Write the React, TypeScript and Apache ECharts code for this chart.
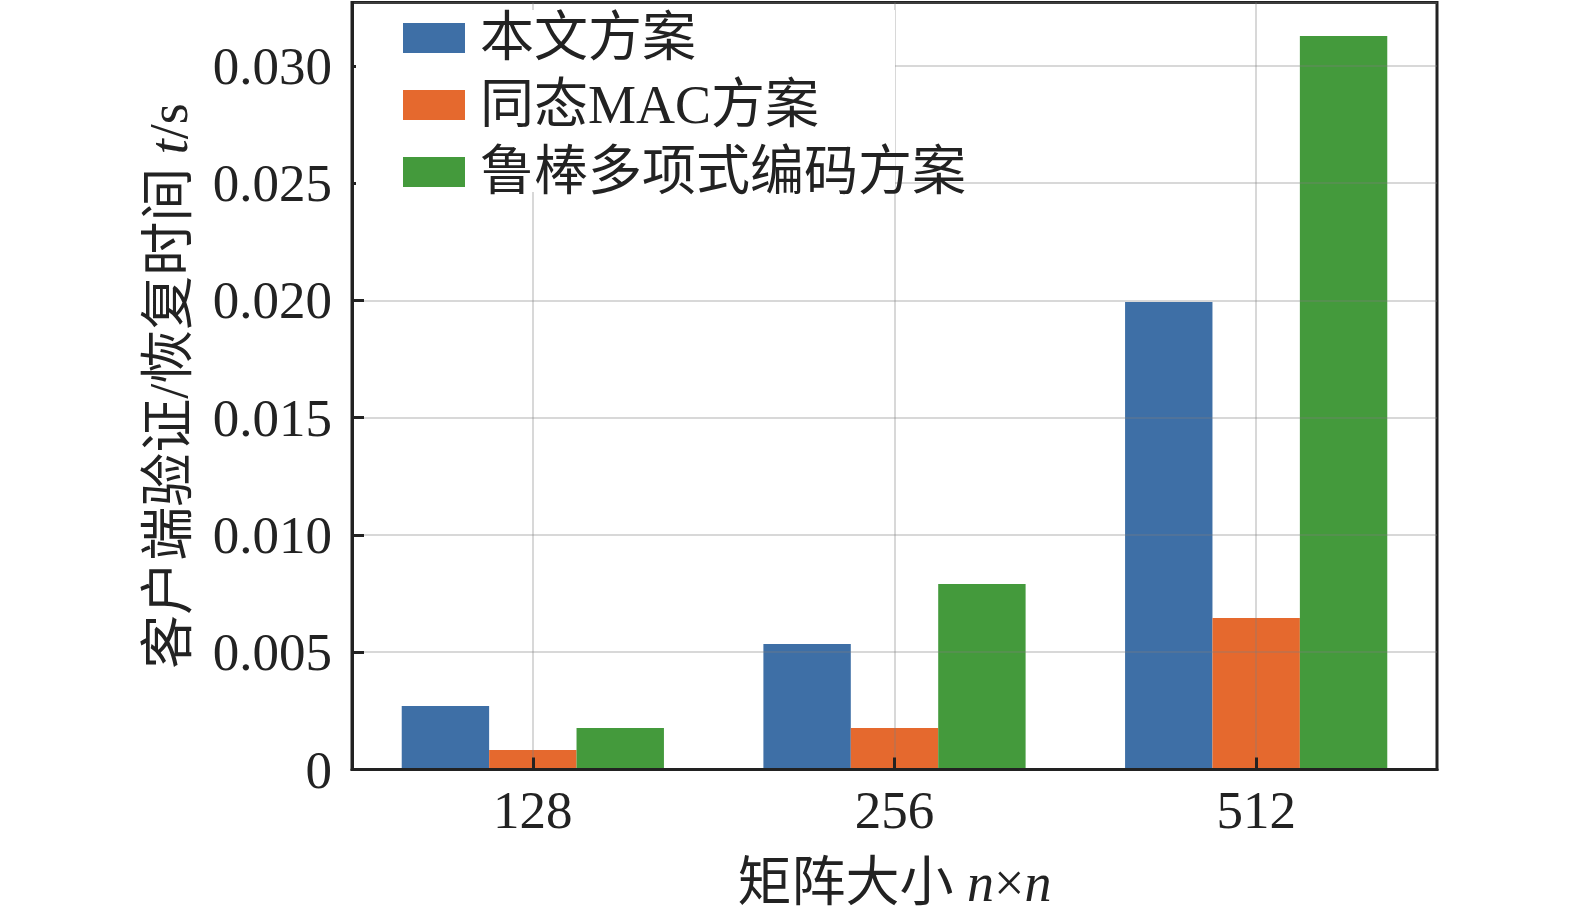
import React, { useEffect, useRef } from "react";
import * as echarts from "echarts";

const categories = ["128", "256", "512"];
const seriesNames = ["本文方案", "同态MAC方案", "鲁棒多项式编码方案"];
const oursValues = [0.00271, 0.00535, 0.01993];
const macValues = [0.00083, 0.00177, 0.00646];
const robustValues = [0.00177, 0.00791, 0.03127];
const seriesColors = ["#3e6fa6", "#e5692e", "#449a3c"];
const yTickLabels = ["0", "0.005", "0.010", "0.015", "0.020", "0.025", "0.030"];

const FONT = "'Liberation Serif', 'Noto Sans CJK SC', serif";
const INK = "#222222";

export default function App() {
  const ref = useRef<HTMLDivElement>(null);

  useEffect(() => {
    if (!ref.current) return;
    const chart = echarts.init(ref.current, null, { renderer: "svg" });
    const values = [oursValues, macValues, robustValues];
    chart.setOption({
      animation: false,
      backgroundColor: "#ffffff",
      textStyle: { fontFamily: FONT, color: INK },
      grid: {
        left: 352,
        right: 138,
        top: 2.5,
        bottom: 147.5,
        show: true,
        borderColor: INK,
        borderWidth: 3,
        backgroundColor: "transparent",
      },
      legend: {
        show: true,
        orient: "vertical",
        left: 398,
        top: 6,
        z: 6,
        itemWidth: 62,
        itemHeight: 30,
        itemGap: 13,
        icon: "rect",
        data: seriesNames,
        textStyle: {
          fontFamily: FONT,
          fontSize: 54,
          lineHeight: 54,
          color: INK,
          padding: [0, 0, 0, 10],
        },
      },
      graphic: [
        {
          type: "rect",
          z: 5,
          silent: true,
          shape: { x: 356, y: 10, width: 539, height: 182 },
          style: { fill: "#ffffff" },
        },
      ],
      xAxis: {
        type: "category",
        data: categories,
        z: 3,
        name: "矩阵大小 {i|n}×{i|n}",
        nameLocation: "middle",
        nameGap: 86,
        nameTextStyle: {
          fontFamily: FONT,
          fontSize: 54,
          color: INK,
          rich: {
            i: { fontFamily: FONT, fontStyle: "italic", fontSize: 54, color: INK },
          },
        },
        axisLine: { show: true, lineStyle: { color: INK, width: 3 } },
        axisTick: {
          show: true,
          inside: true,
          alignWithLabel: true,
          length: 12,
          lineStyle: { color: INK, width: 3 },
        },
        axisLabel: { fontFamily: FONT, fontSize: 53, color: INK, margin: 14 },
        splitLine: {
          show: true,
          alignWithLabel: true,
          lineStyle: { color: "rgba(126,126,126,0.3)", width: 2 },
        },
      },
      yAxis: {
        type: "value",
        min: 0,
        max: 0.0327,
        interval: 0.005,
        z: 3,
        name: "客户端验证/恢复时间 {i|t}/s",
        nameLocation: "middle",
        nameGap: 156,
        nameTextStyle: {
          fontFamily: FONT,
          fontSize: 54,
          color: INK,
          rich: {
            i: { fontFamily: FONT, fontStyle: "italic", fontSize: 54, color: INK },
          },
        },
        axisLine: { show: true, lineStyle: { color: INK, width: 3 } },
        axisTick: {
          show: true,
          inside: true,
          length: 12,
          lineStyle: { color: INK, width: 3 },
        },
        axisLabel: {
          fontFamily: FONT,
          fontSize: 53,
          color: INK,
          margin: 20,
          showMaxLabel: false,
          formatter: (v: number) => {
            const idx = Math.round(v / 0.005);
            if (Math.abs(idx * 0.005 - v) > 1e-9) return "";
            return yTickLabels[idx] ?? "";
          },
        },
        splitLine: { show: true, lineStyle: { color: "rgba(126,126,126,0.3)", width: 2 } },
      },
      series: seriesNames.map((name, i) => ({
        name,
        type: "bar",
        data: values[i],
        barGap: "0%",
        barCategoryGap: "27.5%",
        itemStyle: { color: seriesColors[i] },
        z: 2,
      })),
    });
    return () => chart.dispose();
  }, []);

  return (
    <div
      ref={ref}
      style={{ position: "fixed", left: 0, top: 0, width: 1575, height: 917 }}
    />
  );
}
